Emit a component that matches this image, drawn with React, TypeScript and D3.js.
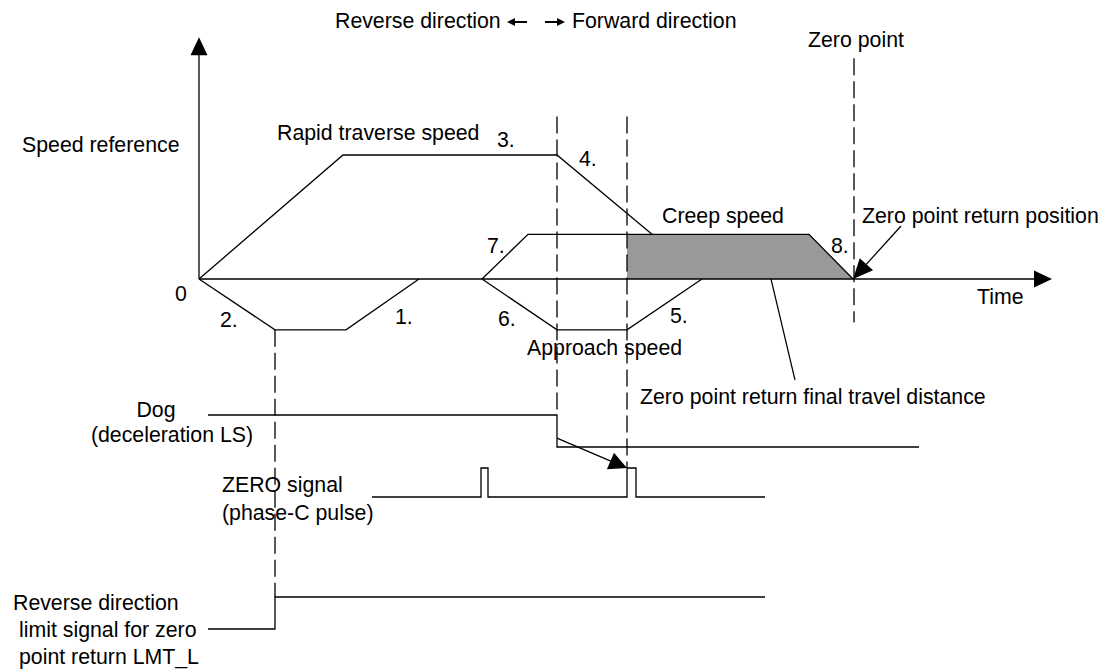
import React from 'react';
import * as d3 from 'd3';

// time in arbitrary units, speed in % of rapid traverse speed
const rapidProfile: [number, number][] = [[0, 0], [14.4, 100], [35.8, 100], [45.3, 36]];
const reverseProfile: [number, number][] = [[0, 0], [7.6, -41], [14.7, -41], [22, 0]];
const approachProfile: [number, number][] = [[28.3, 0], [35.8, -41], [42.8, -41], [50.3, 0]];
const creepProfile: [number, number][] = [[28.3, 0], [32.9, 36], [61, 36], [65.4, 0]];
const finalTravel: [number, number][] = [[42.8, 0], [42.8, 36], [61, 36], [65.4, 0]];

// signal levels (0 = low, 1 = high)
const dogSignal: [number, number][] = [[0.9, 1], [35.8, 1], [35.8, 0], [72, 0]];
const zeroSignal: [number, number][] = [
  [17.3, 0], [28.2, 0], [28.2, 1], [28.9, 1], [28.9, 0],
  [42.8, 0], [42.8, 1], [43.7, 1], [43.7, 0], [56.6, 0],
];
const lmtSignal: [number, number][] = [[0.9, 0], [7.6, 0], [7.6, 1], [56.6, 1]];

const W = 1116;
const H = 671;
const FONT = '"Liberation Sans", Arial, Helvetica, sans-serif';
const FS = 21.3;

const x = d3.scaleLinear().domain([0, 85.3]).range([199, 1052]);
const y = d3.scaleLinear().domain([0, 100]).range([279, 155]);
const lane = {
  dog: d3.scaleLinear().domain([0, 1]).range([447, 415]),
  zero: d3.scaleLinear().domain([0, 1]).range([497, 468]),
  lmt: d3.scaleLinear().domain([0, 1]).range([629, 597]),
};

const speedLine = d3.line<[number, number]>().x(d => x(d[0])).y(d => y(d[1]));
const laneLine = (sc: d3.ScaleLinear<number, number>) =>
  d3.line<[number, number]>().x(d => x(d[0])).y(d => sc(d[1]));

const arrowHead = (x1: number, y1: number, x2: number, y2: number, len: number, half: number) => {
  const a = Math.atan2(y2 - y1, x2 - x1);
  const bx = x2 - len * Math.cos(a);
  const by = y2 - len * Math.sin(a);
  const px = -Math.sin(a) * half;
  const py = Math.cos(a) * half;
  return `M${x2},${y2}L${bx + px},${by + py}L${bx - px},${by - py}Z`;
};

const Arrow = ({ x1, y1, x2, y2, len = 18, half = 8.5, sw = 1.3 }: any) => {
  const a = Math.atan2(y2 - y1, x2 - x1);
  return (
    <g>
      <line x1={x1} y1={y1} x2={x2 - (len - 1) * Math.cos(a)} y2={y2 - (len - 1) * Math.sin(a)} stroke="#000" strokeWidth={sw} />
      <path d={arrowHead(x1, y1, x2, y2, len, half)} fill="#000" />
    </g>
  );
};

const labels: { t: string; x: number; y: number; anchor?: string }[] = [
  { t: 'Reverse direction', x: 335, y: 28 },
  { t: 'Forward direction', x: 572, y: 28 },
  { t: 'Zero point', x: 808, y: 47 },
  { t: 'Speed reference', x: 22, y: 152 },
  { t: 'Rapid traverse speed', x: 277, y: 140 },
  { t: '3.', x: 497, y: 147 },
  { t: '4.', x: 579, y: 166 },
  { t: 'Creep speed', x: 662, y: 223 },
  { t: 'Zero point return position', x: 862, y: 223 },
  { t: '7.', x: 487, y: 253 },
  { t: '8.', x: 831, y: 253 },
  { t: '0', x: 175, y: 301 },
  { t: '2.', x: 220, y: 327 },
  { t: '1.', x: 395, y: 324 },
  { t: '6.', x: 498, y: 326 },
  { t: '5.', x: 670, y: 323 },
  { t: 'Approach speed', x: 527, y: 355 },
  { t: 'Time', x: 977, y: 304 },
  { t: 'Zero point return final travel distance', x: 640, y: 404 },
  { t: 'Dog', x: 156, y: 417, anchor: 'middle' },
  { t: '(deceleration LS)', x: 172, y: 442, anchor: 'middle' },
  { t: 'ZERO signal', x: 222, y: 492 },
  { t: '(phase-C pulse)', x: 222, y: 520 },
  { t: 'Reverse direction', x: 13, y: 610 },
  { t: 'limit signal for zero', x: 19, y: 637 },
  { t: 'point return LMT_L', x: 19, y: 664 },
];

const dash = '17 6';

export default function App() {
  const stroke = { stroke: '#000', strokeWidth: 1.3, fill: 'none' };
  const guides = [
    { t: 7.6, y1: y(-41), y2: lane.lmt(1) },
    { t: 35.8, y1: y(131), y2: lane.dog(1) },
    { t: 42.8, y1: y(131), y2: lane.zero(1) },
    { t: 65.5, y1: y(178), y2: y(-35) },
  ];
  return (
    <div style={{ position: 'absolute', left: 0, top: 0 }}>
      <svg width={W} height={H} style={{ display: 'block', background: '#fff' }}>
        <path d={speedLine(finalTravel) + 'Z'} fill="#999" stroke="none" />
        {/* axes */}
        <Arrow x1={x(0)} y1={y(0)} x2={x(0)} y2={y(195)} />
        <Arrow x1={x(0)} y1={y(0)} x2={x(85.3)} y2={y(0)} />
        {/* speed profiles */}
        {[rapidProfile, reverseProfile, approachProfile, creepProfile].map((p, i) => (
          <path key={i} d={speedLine(p) || ''} {...stroke} />
        ))}
        {/* signals */}
        <path d={laneLine(lane.dog)(dogSignal) || ''} {...stroke} />
        <path d={laneLine(lane.zero)(zeroSignal) || ''} {...stroke} />
        <path d={laneLine(lane.lmt)(lmtSignal) || ''} {...stroke} />
        {/* guides */}
        {guides.map((g, i) => (
          <line key={i} x1={x(g.t)} x2={x(g.t)} y1={g.y1} y2={g.y2} stroke="#000" strokeWidth={1.3} strokeDasharray={dash} />
        ))}
        {/* pointers */}
        <Arrow x1={x(35.8)} y1={lane.dog(0.28)} x2={x(42.8)} y2={lane.zero(1)} len={18} half={9} />
        <Arrow x1={901} y1={226} x2={x(65.4)} y2={y(0)} len={20} half={9} />
        <line x1={771} y1={y(0)} x2={795} y2={380} stroke="#000" strokeWidth={1.2} />
        {/* direction arrows */}
        <Arrow x1={527} y1={22} x2={507} y2={22} len={8} half={4} sw={2} />
        <Arrow x1={545} y1={22} x2={565} y2={22} len={8} half={4} sw={2} />
        {labels.map((l, i) => (
          <text key={i} x={l.x} y={l.y} textAnchor={l.anchor || 'start'} fontFamily={FONT} fontSize={FS} fill="#000">
            {l.t}
          </text>
        ))}
      </svg>
    </div>
  );
}
